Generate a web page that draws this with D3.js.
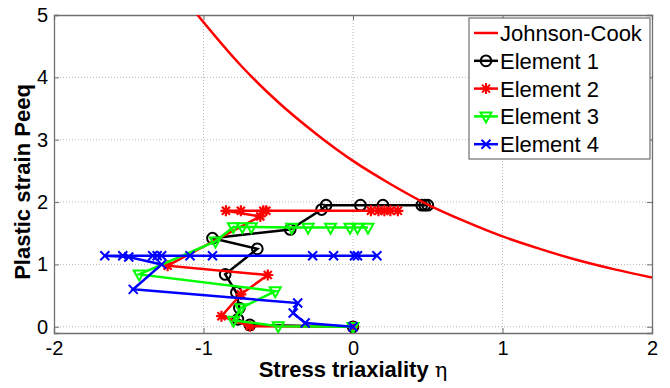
<!DOCTYPE html>
<html>
<head>
<meta charset="utf-8">
<script src="https://cdn.jsdelivr.net/npm/d3@7"></script>
<style>
  body { margin: 0; background: #fff; }
  text { font-family: Arial, "Liberation Sans", sans-serif; }
</style>
</head>
<body>
<div id="chart"></div>
<script>
// Johnson-Cook failure curve
var jcEta  = [-1.05, -0.75, -0.5, -0.25, 0, 0.25, 0.5, 0.75, 1, 1.25, 1.5, 1.75, 2];
var jcPeeq = [5.03, 4.19, 3.60, 3.10, 2.66, 2.29, 1.96, 1.69, 1.45, 1.25, 1.07, 0.92, 0.79];

// element histories (triaxiality, plastic strain)
var el1Eta  = [0, -0.69, -0.77, -0.76, -0.78, -0.855, -0.64, -0.94, -0.42, -0.21, -0.18, 0.05, 0.2, 0.46, 0.48, 0.5];
var el1Peeq = [0, 0.03, 0.12, 0.3, 0.55, 0.84, 1.25, 1.42, 1.56, 1.88, 1.95, 1.95, 1.95, 1.95, 1.95, 1.95];

var el2Eta  = [0, -0.69, -0.88, -0.75, -0.57, -1.24, -0.62, -0.85, -0.75, -0.6, -0.58, 0.12, 0.17, 0.21, 0.25, 0.3];
var el2Peeq = [0, 0.01, 0.17, 0.52, 0.83, 0.98, 1.77, 1.86, 1.86, 1.86, 1.86, 1.86, 1.86, 1.86, 1.86, 1.86];

var el3Eta  = [0, -0.5, -0.8, -0.75, -0.52, -1.43, -0.92, -0.8, -0.74, -0.68, -0.41, -0.3, -0.15, -0.02, 0.03, 0.1];
var el3Peeq = [0, 0.01, 0.1, 0.3, 0.57, 0.84, 1.37, 1.6, 1.6, 1.6, 1.59, 1.59, 1.59, 1.59, 1.59, 1.59];

var el4Eta  = [0, -0.32, -0.4, -0.37, -1.47, -1.28, -1.5, -1.66, -1.54, -1.34, -1.31, -1.28, -1.09, -0.94, -0.27, -0.13, 0.01, 0.03, 0.16];
var el4Peeq = [0, 0.06, 0.22, 0.38, 0.6, 1.0, 1.12, 1.14, 1.14, 1.14, 1.14, 1.14, 1.14, 1.14, 1.14, 1.14, 1.14, 1.14, 1.14];

var xTicks = [-2, -1, 0, 1, 2];
var yTicks = [0, 1, 2, 3, 4, 5];
var legendNames = ["Johnson-Cook", "Element 1", "Element 2", "Element 3", "Element 4"];

var width = 670, height = 388;
var margin = {top: 15, right: 18, bottom: 55, left: 54};

var svg = d3.select("#chart").append("svg")
    .attr("width", width)
    .attr("height", height);

var x = d3.scaleLinear().domain([-2, 2]).range([margin.left, width - margin.right]);
var y = d3.scaleLinear().domain([-0.1, 5]).range([height - margin.bottom, margin.top]);

var x0 = x.range()[0], x1 = x.range()[1], y0 = y.range()[0], y1 = y.range()[1];

// grid
var grid = svg.append("g").attr("stroke", "#b8b8b8").attr("stroke-width", 1).attr("stroke-dasharray", "1,2");
grid.selectAll(".gx").data(xTicks.slice(1, -1)).join("line")
    .attr("x1", d => x(d)).attr("x2", d => x(d)).attr("y1", y0).attr("y2", y1);
grid.selectAll(".gy").data(yTicks.slice(0, -1)).join("line")
    .attr("x1", x0).attr("x2", x1).attr("y1", d => y(d)).attr("y2", d => y(d));

// axes with inner ticks
var axisColor = "#707070";
var xAxis = svg.append("g").attr("transform", "translate(0," + y0 + ")")
    .call(d3.axisBottom(x).tickValues(xTicks).tickSize(-5).tickPadding(8).tickFormat(d3.format("d")));
var xTop = svg.append("g").attr("transform", "translate(0," + y1 + ")")
    .call(d3.axisTop(x).tickValues(xTicks).tickSize(-5).tickFormat(""));
var yAxis = svg.append("g").attr("transform", "translate(" + x0 + ",0)")
    .call(d3.axisLeft(y).tickValues(yTicks).tickSize(-5).tickPadding(6).tickFormat(d3.format("d")));
var yRight = svg.append("g").attr("transform", "translate(" + x1 + ",0)")
    .call(d3.axisRight(y).tickValues(yTicks).tickSize(-5).tickFormat(""));

[xAxis, xTop, yAxis, yRight].forEach(function (a) {
    a.select(".domain").attr("stroke", axisColor).attr("stroke-width", 1.3);
    a.selectAll(".tick line").attr("stroke", axisColor);
    a.selectAll("text").attr("fill", "#000").style("font-size", "20px");
});
xAxis.selectAll("text").text(d => d < 0 ? "-" + Math.abs(d) : d);

// axis titles
var xt = svg.append("text")
    .attr("x", x(0)).attr("y", 377)
    .attr("text-anchor", "middle")
    .style("font-size", "22px").style("font-weight", "bold")
    .text("Stress triaxiality ");
xt.append("tspan").style("font-weight", "normal").style("font-family", "'DejaVu Serif', serif")
    .style("font-size", "21px").text("η");

svg.append("text")
    .attr("transform", "translate(30," + ((y0 + y1) / 2 + 8) + ") rotate(-90)")
    .attr("text-anchor", "middle")
    .style("font-size", "22px").style("font-weight", "bold")
    .text("Plastic strain Peeq");

// clip for the curve
svg.append("clipPath").attr("id", "clip").append("rect")
    .attr("x", x0).attr("y", y1).attr("width", x1 - x0).attr("height", y0 - y1);

var line = d3.line().x(d => x(d[0])).y(d => y(d[1]));

function zip(a, b) { return a.map((v, i) => [v, b[i]]); }

var series = [
    {name: "Element 1", color: "#000000", pts: zip(el1Eta, el1Peeq), marker: "circle"},
    {name: "Element 2", color: "#ff0000", pts: zip(el2Eta, el2Peeq), marker: "star"},
    {name: "Element 3", color: "#00ff00", pts: zip(el3Eta, el3Peeq), marker: "tri"},
    {name: "Element 4", color: "#0000ff", pts: zip(el4Eta, el4Peeq), marker: "cross"}
];

// marker paths centred at 0,0
function markerPath(type) {
    var s = 5.5;
    if (type === "circle") return d3.symbol(d3.symbolCircle, 90)();
    if (type === "tri") return "M" + (-s) + "," + (-s * 0.7) + "L" + s + "," + (-s * 0.7) + "L0," + (s * 1.1) + "Z";
    if (type === "cross") return "M-4.5,-4.5L4.5,4.5M-4.5,4.5L4.5,-4.5";
    // star = plus + x
    return "M-5.5,0L5.5,0M0,-5.5L0,5.5M-4,-4L4,4M-4,4L4,-4";
}

var plot = svg.append("g").attr("clip-path", "url(#clip)");

series.forEach(function (s) {
    var g = plot.append("g");
    g.append("path")
        .datum(s.pts)
        .attr("fill", "none")
        .attr("stroke", s.color)
        .attr("stroke-width", 2.5)
        .attr("d", line);
    g.selectAll("path.m").data(s.pts).join("path")
        .attr("class", "m")
        .attr("transform", d => "translate(" + x(d[0]) + "," + y(d[1]) + ")")
        .attr("d", markerPath(s.marker))
        .attr("fill", "none")
        .attr("stroke", s.color)
        .attr("stroke-width", s.marker === "star" ? 2.2 : 2);
});

// Johnson-Cook on top
plot.append("path")
    .datum(zip(jcEta, jcPeeq))
    .attr("fill", "none")
    .attr("stroke", "#ff0000")
    .attr("stroke-width", 2.5)
    .attr("d", line.curve(d3.curveMonotoneX));

// legend
var lg = svg.append("g").attr("transform", "translate(469,18)");
lg.append("rect").attr("width", 181).attr("height", 141)
    .attr("fill", "#fff").attr("stroke", axisColor).attr("stroke-width", 1.2);

var legendMarkers = [null, "circle", "star", "tri", "cross"];
var legendColors = ["#ff0000", "#000000", "#ff0000", "#00ff00", "#0000ff"];

legendNames.forEach(function (name, i) {
    var yy = 15 + i * 27.8;
    lg.append("line").attr("x1", 5).attr("x2", 29).attr("y1", yy).attr("y2", yy)
        .attr("stroke", legendColors[i]).attr("stroke-width", 2.5);
    if (legendMarkers[i]) {
        lg.append("path")
            .attr("transform", "translate(17," + yy + ")")
            .attr("d", markerPath(legendMarkers[i]))
            .attr("fill", "none").attr("stroke", legendColors[i]).attr("stroke-width", 2);
    }
    lg.append("text").attr("x", 31).attr("y", yy + 8)
        .style("font-size", "22px")
        .text(name);
});
</script>
</body>
</html>
